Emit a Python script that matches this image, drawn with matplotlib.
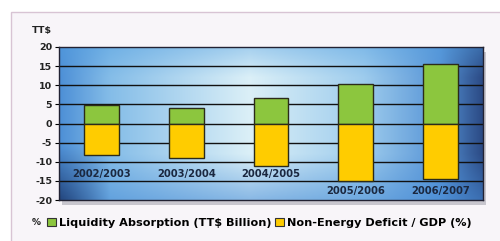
import numpy as np
import matplotlib
matplotlib.use('Agg')
import matplotlib.pyplot as plt
from matplotlib.patches import Rectangle, Patch

years = ['2002/2003', '2003/2004', '2004/2005', '2005/2006', '2006/2007']
liquidity = [4.8, 4.0, 6.6, 10.3, 15.6]
deficit = [-8.2, -8.9, -11.0, -15.0, -14.6]

green = '#8cc63e'
yellow = '#ffcc00'

fig = plt.figure(figsize=(5.0, 2.41), dpi=100)
fig.patch.set_facecolor('white')

# outer light panel
fig.patches.append(Rectangle((0.022, -0.05), 0.99, 1.0, transform=fig.transFigure,
                             facecolor='#f8f5f9', edgecolor='#d8c4d4', linewidth=1.0, zorder=0))

# shadow behind plot area
fig.patches.append(Rectangle((0.124, 0.150), 0.848, 0.635, transform=fig.transFigure,
                             facecolor='#a8a8b2', edgecolor='none', alpha=0.6, zorder=0.5))

ax = fig.add_axes([0.118, 0.170, 0.848, 0.635])
ax.set_zorder(2)

# blue gradient background (left bright blue, centre pale, right dark navy)
stops = [0.0, 0.12, 0.45, 0.72, 0.9, 1.0]
rs = [0.30, 0.52, 0.86, 0.62, 0.34, 0.17]
gs = [0.56, 0.74, 0.94, 0.80, 0.58, 0.29]
bs = [0.84, 0.91, 0.97, 0.93, 0.84, 0.52]
gx = np.linspace(0, 1, 400)
gy = np.linspace(0, 1, 120)
row = np.stack([np.interp(gx, stops, rs), np.interp(gx, stops, gs), np.interp(gx, stops, bs)], axis=-1)
img = np.repeat(row[None, :, :], len(gy), axis=0)
X, Y = np.meshgrid(gx, gy)
# bottom band turns a deeper blue, bottom-left corner dark navy
wb = 0.55 * np.clip(1 - Y / 0.3, 0, 1)
img = img * (1 - wb[..., None]) + np.array([0.28, 0.55, 0.84]) * wb[..., None]
wc = 0.8 * np.clip(1 - Y / 0.35, 0, 1) * np.clip(1 - X / 0.12, 0, 1)
img = img * (1 - wc[..., None]) + np.array([0.10, 0.20, 0.40]) * wc[..., None]
# top edge slightly more saturated
wt = 0.4 * np.clip((Y - 0.8) / 0.2, 0, 1)
img = img * (1 - wt[..., None]) + np.array([0.32, 0.62, 0.88]) * wt[..., None]
img = np.clip(img, 0, 1)
ax.imshow(img, extent=[-0.5, 4.5, -20, 20], origin='lower', aspect='auto', zorder=0)

x = np.arange(len(years))
ax.bar(x, liquidity, width=0.41, color=green, edgecolor='#2b2b1a', linewidth=1.0, zorder=3)
ax.bar(x, deficit, width=0.41, color=yellow, edgecolor='#2b2b1a', linewidth=1.0, zorder=3)

for v in range(-15, 20, 5):
    ax.axhline(v, color='#111111', linewidth=1.0, zorder=2)

for i, lab in enumerate(years):
    ly = -13.3 if deficit[i] > -12 else -17.6
    ax.text(x[i], ly, lab, ha='center', va='center', fontsize=7.2, fontweight='bold',
            color='#1b2840', zorder=4)

ax.set_xlim(-0.5, 4.5)
ax.set_ylim(-20, 20)
ax.set_xticks([])
ax.set_yticks(range(-20, 21, 5))
ax.set_yticklabels([str(v) for v in range(-20, 21, 5)], fontsize=6.8, fontweight='bold',
                   color='#222222')
ax.tick_params(axis='y', length=3, width=0.8, pad=2)
for s in ax.spines.values():
    s.set_color('#222233')
    s.set_linewidth(1.0)

fig.text(0.064, 0.875, 'TT$', fontsize=6.8, fontweight='bold', color='#222222',
         ha='left', va='center')
fig.text(0.064, 0.078, '%', fontsize=6.5, fontweight='bold', color='#222222',
         ha='left', va='center')

handles = [Patch(facecolor=green, edgecolor='#333333', linewidth=0.8),
           Patch(facecolor=yellow, edgecolor='#333333', linewidth=0.8)]
fig.legend(handles, ['Liquidity Absorption (TT$ Billion)', 'Non-Energy Deficit / GDP (%)'],
           loc='center left', bbox_to_anchor=(0.094, 0.075), ncol=2, frameon=False,
           prop={'size': 8.1, 'weight': 'bold'}, handlelength=0.8, handleheight=0.8,
           handletextpad=0.25, columnspacing=0.35, borderpad=0.0, borderaxespad=0.0)

fig.savefig('out.png', dpi=100, facecolor=fig.get_facecolor())
